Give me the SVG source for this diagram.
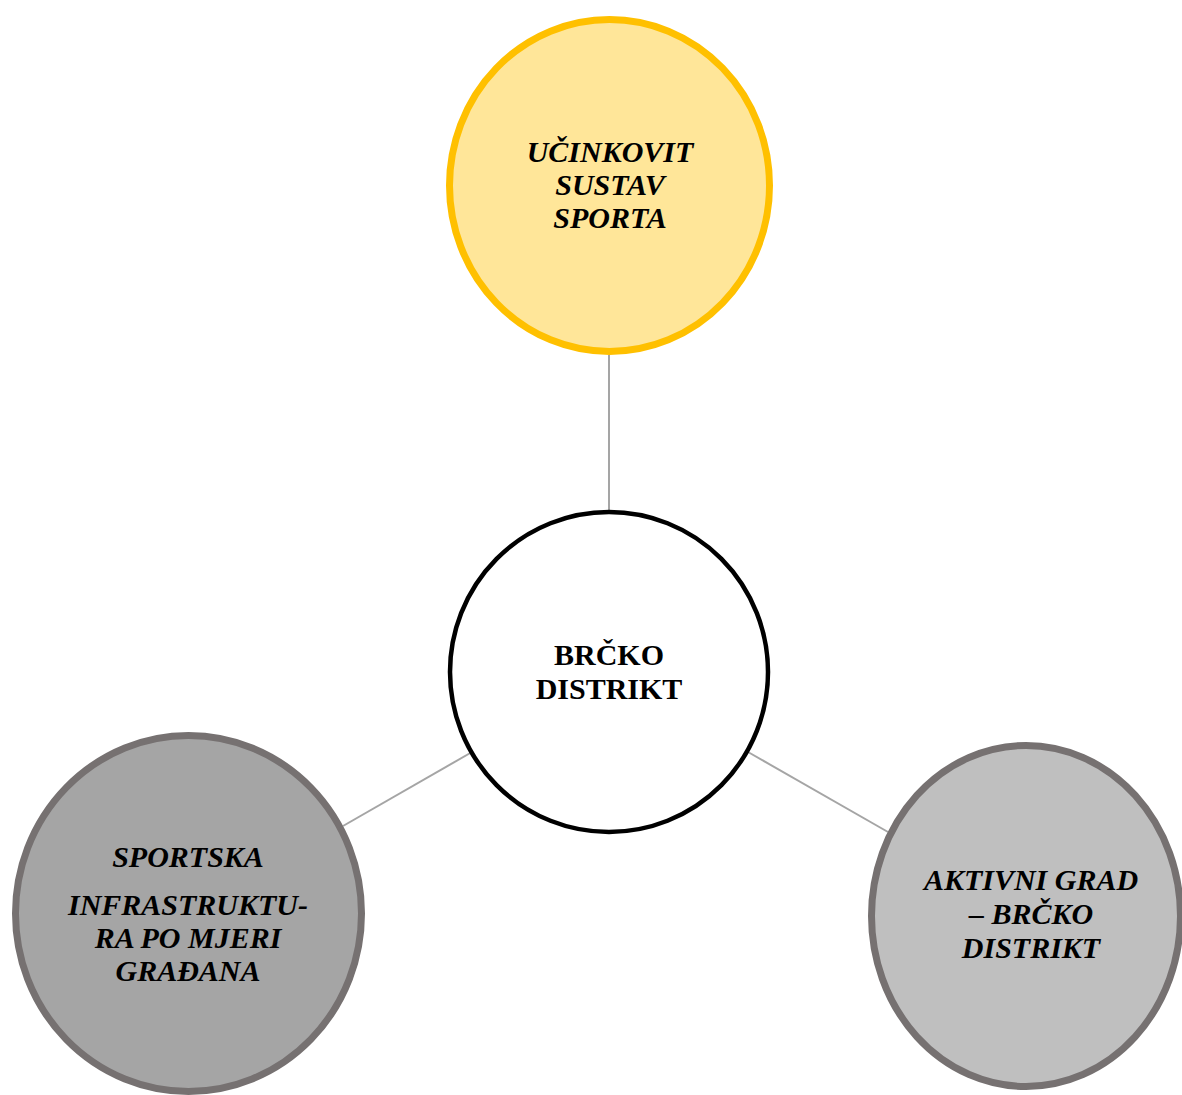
<svg xmlns="http://www.w3.org/2000/svg" width="1182" height="1095" viewBox="0 0 1182 1095">
<style>
.lbl{font-family:"Liberation Serif","Times New Roman",serif;font-weight:bold;font-size:30px;text-anchor:middle;fill:#000}
.it{font-style:italic}
.conn{stroke:#A5A5A5;stroke-width:2;fill:none}
</style>
<rect width="1182" height="1095" fill="#fff"/>
<g id="connectors">
<line class="conn" x1="609" y1="355" x2="609" y2="512"/>
<line class="conn" x1="472" y1="752" x2="343" y2="826"/>
<line class="conn" x1="748" y1="752" x2="888" y2="832"/>
</g>
<g id="node-top">
<ellipse cx="609.5" cy="185.5" rx="160" ry="166" fill="#FFE699" stroke="#FFC000" stroke-width="7"/>
<text class="lbl it" x="610" y="162">UČINKOVIT</text>
<text class="lbl it" x="610" y="195">SUSTAV</text>
<text class="lbl it" x="610" y="228">SPORTA</text>
</g>
<g id="node-center">
<ellipse cx="609" cy="672" rx="159" ry="160" fill="#fff" stroke="#000" stroke-width="4.5"/>
<text class="lbl" x="609" y="665">BRČKO</text>
<text class="lbl" x="609" y="699">DISTRIKT</text>
</g>
<g id="node-left">
<ellipse cx="188.5" cy="913.5" rx="173" ry="178" fill="#A5A5A5" stroke="#767171" stroke-width="7"/>
<text class="lbl it" x="188" y="867">SPORTSKA</text>
<text class="lbl it" x="188" y="915">INFRASTRUKTU-</text>
<text class="lbl it" x="188" y="948">RA PO MJERI</text>
<text class="lbl it" x="188" y="981">GRAĐANA</text>
</g>
<g id="node-right">
<ellipse cx="1026" cy="916" rx="154.5" ry="170.5" fill="#BFBFBF" stroke="#767171" stroke-width="7"/>
<text class="lbl it" x="1031" y="890">AKTIVNI GRAD</text>
<text class="lbl it" x="1031" y="924">– BRČKO</text>
<text class="lbl it" x="1031" y="958">DISTRIKT</text>
</g>
</svg>
